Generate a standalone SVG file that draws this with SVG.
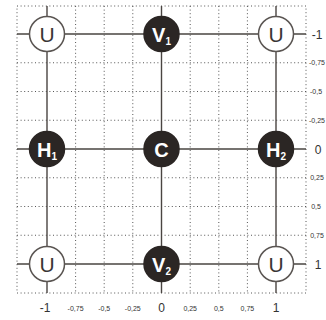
<svg xmlns="http://www.w3.org/2000/svg" width="326" height="320" viewBox="0 0 326 320">
<style>
.dot{stroke:#555;stroke-width:1;stroke-dasharray:1 2.6;fill:none}
.ax{stroke:#4a4542;stroke-width:1.4;fill:none}
.w{fill:#fff;stroke:#5a5552;stroke-width:1.5}
.b{fill:#2b2624;stroke:#2b2624;stroke-width:1.5}
.t{font-family:"Liberation Sans",Arial,sans-serif;font-size:21px;text-anchor:middle}
.tw{fill:#3a3634}
.tb{fill:#fff;font-weight:bold;font-size:20px}
.lb{font-family:"Liberation Sans",Arial,sans-serif;font-size:12px;fill:#333;text-anchor:middle}
.ls{font-family:"Liberation Sans",Arial,sans-serif;font-size:7px;fill:#333;text-anchor:middle}
.sub{font-size:10px}
</style>
<rect width="326" height="320" fill="#fff"/>
<g id="grid">
<rect class="dot" x="17" y="6" width="289" height="287"/>
<path class="dot" d="M75.6 6V293M104.2 6V293M132.8 6V293M190.2 6V293M218.8 6V293M247.4 6V293M17 62.75H306M17 91.5H306M17 120.25H306M17 177.75H306M17 206.5H306M17 235.25H306"/>
</g>
<g id="connectors">
<path class="ax" d="M47 6V293M161.5 6V293M276 6V293M17 34H306M17 149H306M17 264H306"/>
</g>
<g id="U1"><circle class="w" cx="47" cy="34" r="17.5"/><text class="t tw" x="47" y="41.5">U</text></g>
<g id="V1"><circle class="b" cx="161.5" cy="34" r="17.5"/><text class="t tb" x="161.5" y="41.5">V<tspan class="sub" dy="3">1</tspan></text></g>
<g id="U2"><circle class="w" cx="276" cy="34" r="17.5"/><text class="t tw" x="276" y="41.5">U</text></g>
<g id="H1"><circle class="b" cx="47" cy="149" r="17.5"/><text class="t tb" x="47" y="156.5">H<tspan class="sub" dy="3">1</tspan></text></g>
<g id="C"><circle class="b" cx="161.5" cy="149" r="17.5"/><text class="t tb" x="161.5" y="156.5">C</text></g>
<g id="H2"><circle class="b" cx="276" cy="149" r="17.5"/><text class="t tb" x="276" y="156.5">H<tspan class="sub" dy="3">2</tspan></text></g>
<g id="U3"><circle class="w" cx="47" cy="264" r="17.5"/><text class="t tw" x="47" y="271.5">U</text></g>
<g id="V2"><circle class="b" cx="161.5" cy="264" r="17.5"/><text class="t tb" x="161.5" y="271.5">V<tspan class="sub" dy="3">2</tspan></text></g>
<g id="U4"><circle class="w" cx="276" cy="264" r="17.5"/><text class="t tw" x="276" y="271.5">U</text></g>
<g id="labels-right">
<text class="lb" x="317" y="38.5">-1</text>
<text class="ls" x="317" y="65">-0,75</text>
<text class="ls" x="316" y="94">-0,5</text>
<text class="ls" x="317" y="122.5">-0,25</text>
<text class="lb" x="318" y="153.5">0</text>
<text class="ls" x="317" y="180">0,25</text>
<text class="ls" x="316" y="209">0,5</text>
<text class="ls" x="317" y="237.5">0,75</text>
<text class="lb" x="318" y="268.5">1</text>
</g>
<g id="labels-bottom">
<text class="lb" x="45" y="312">-1</text>
<text class="ls" x="75.6" y="311">-0,75</text>
<text class="ls" x="104.2" y="311">-0,5</text>
<text class="ls" x="132.8" y="311">-0,25</text>
<text class="lb" x="161.5" y="312">0</text>
<text class="ls" x="190.2" y="311">0,25</text>
<text class="ls" x="218.8" y="311">0,5</text>
<text class="ls" x="247.4" y="311">0,75</text>
<text class="lb" x="276" y="312">1</text>
</g>
</svg>
